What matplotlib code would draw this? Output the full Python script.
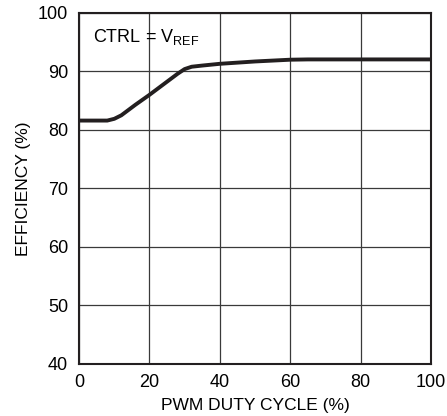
import matplotlib
matplotlib.use('Agg')
import matplotlib.pyplot as plt

plt.rcParams['font.family'] = ['Liberation Sans Narrow', 'Liberation Sans', 'DejaVu Sans']

# Efficiency vs PWM duty cycle
duty = [0, 8, 10, 12, 16, 20, 24, 28, 30, 32, 35, 40, 50, 60, 65, 80, 100]
eff = [81.6, 81.6, 81.9, 82.5, 84.3, 86.0, 87.8, 89.6, 90.4, 90.8, 91.0, 91.3, 91.7, 92.0, 92.05, 92.05, 92.05]

xticks = [0, 20, 40, 60, 80, 100]
yticks = [40, 50, 60, 70, 80, 90, 100]

fig = plt.figure(figsize=(4.47, 4.16), dpi=100)
ax = fig.add_axes([0.177, 0.125, 0.787, 0.844])

ax.plot(duty, eff, color='#231f20', linewidth=2.8, solid_capstyle='butt')

ax.set_xlim(0, 100)
ax.set_ylim(40, 100)
ax.set_xticks(xticks)
ax.set_yticks(yticks)
ax.grid(True, color='#3a3a3a', linewidth=0.9)
ax.tick_params(length=0, labelsize=13)
ax.tick_params(axis='x', pad=7.5)
ax.tick_params(axis='y', pad=8)
for s in ax.spines.values():
    s.set_linewidth(1.5)
    s.set_color('#231f20')

ax.set_xlabel('PWM DUTY CYCLE (%)', fontsize=12.5, labelpad=5)
ax.set_ylabel('EFFICIENCY (%)', fontsize=12.5, labelpad=5)

ax.text(4, 95.8, r'CTRL = V$_{\mathregular{REF}}$', fontsize=13, va='center', ha='left')

fig.savefig('out.png', dpi=100)
